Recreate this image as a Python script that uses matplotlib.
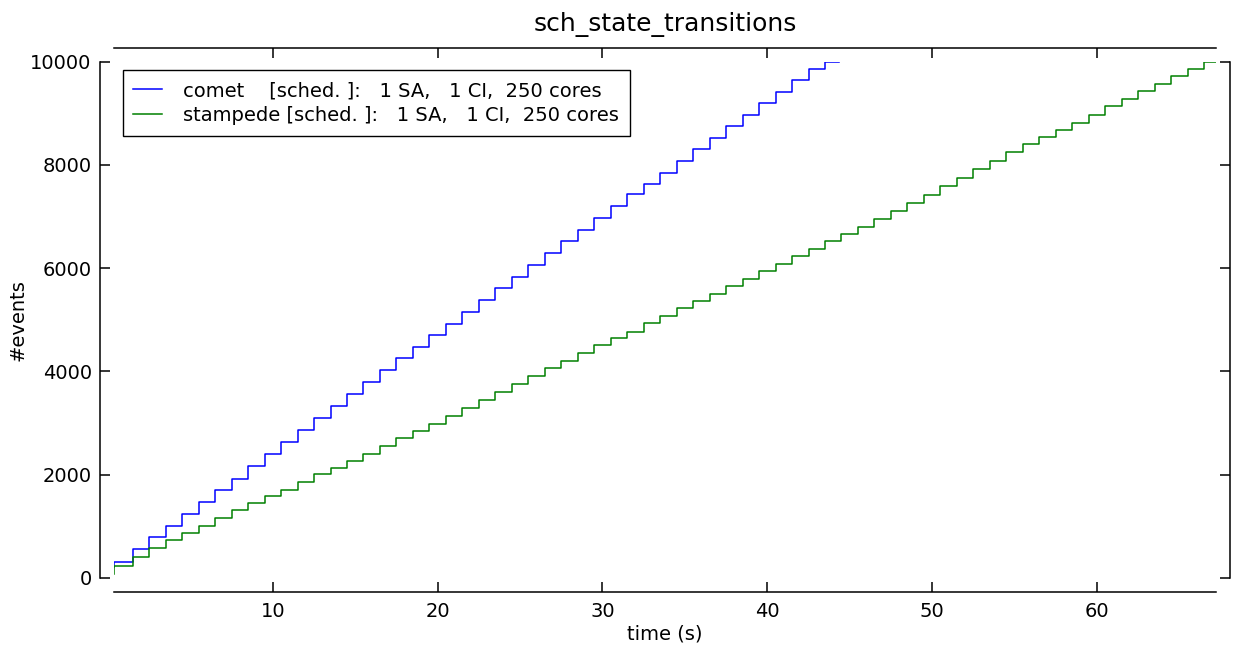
import matplotlib
matplotlib.use("Agg")
import matplotlib.pyplot as plt

# step times (s) and cumulative event counts
comet_t = [0.36, 1.5, 2.5, 3.5, 4.5, 5.5, 6.5, 7.5, 8.5, 9.5, 10.5,
           11.5, 12.5, 13.5, 14.5, 15.5, 16.5, 17.5, 18.5, 19.5, 20.5,
           21.5, 22.5, 23.5, 24.5, 25.5, 26.5, 27.5, 28.5, 29.5, 30.5,
           31.5, 32.5, 33.5, 34.5, 35.5, 36.5, 37.5, 38.5, 39.5, 40.5,
           41.5, 42.5, 43.5, 44.34]
comet_n = [210, 316, 557, 790, 1015, 1236, 1469, 1702, 1927, 2168, 2400,
           2633, 2866, 3099, 3324, 3565, 3798, 4031, 4264, 4483, 4708,
           4912, 5145, 5384, 5610, 5824, 6057, 6295, 6522, 6736, 6968,
           7207, 7434, 7640, 7841, 8074, 8307, 8520, 8753, 8967, 9199,
           9413, 9652, 9859, 10000]

stampede_t = [0.36, 1.5, 2.5, 3.5, 4.5, 5.5, 6.5, 7.5, 8.5, 9.5, 10.5,
              11.5, 12.5, 13.5, 14.5, 15.5, 16.5, 17.5, 18.5, 19.5, 20.5,
              21.5, 22.5, 23.5, 24.5, 25.5, 26.5, 27.5, 28.5, 29.5, 30.5,
              31.5, 32.5, 33.5, 34.5, 35.5, 36.5, 37.5, 38.5, 39.5, 40.5,
              41.5, 42.5, 43.5, 44.5, 45.5, 46.5, 47.5, 48.5, 49.5, 50.5,
              51.5, 52.5, 53.5, 54.5, 55.5, 56.5, 57.5, 58.5, 59.5, 60.5,
              61.5, 62.5, 63.5, 64.5, 65.5, 66.5, 67.25]
stampede_n = [81, 229, 404, 586, 741, 877, 1013, 1168, 1310, 1445, 1581,
              1711, 1853, 2008, 2130, 2274, 2409, 2551, 2706, 2842, 2991,
              3139, 3302, 3444, 3593, 3748, 3909, 4058, 4206, 4349, 4505,
              4646, 4769, 4931, 5067, 5223, 5364, 5506, 5649, 5797, 5940,
              6088, 6231, 6379, 6522, 6658, 6806, 6949, 7104, 7259, 7420,
              7589, 7750, 7919, 8074, 8249, 8396, 8532, 8676, 8817, 8967,
              9134, 9277, 9425, 9574, 9723, 9859, 10000]

comet_label = "comet    [sched. ]:   1 SA,   1 CI,  250 cores"
stampede_label = "stampede [sched. ]:   1 SA,   1 CI,  250 cores"

plt.rcParams['font.family'] = ['DejaVu Sans']
plt.rcParams['font.size'] = 14

fig = plt.figure(figsize=(12.4, 6.52), dpi=100)
ax = fig.add_axes([0.0919, 0.1135, 0.8891, 0.7919])

ax.step(comet_t, comet_n, where='pre', color='#0000ff', lw=1.1, label=comet_label)
ax.step(stampede_t, stampede_n, where='pre', color='#008000', lw=1.1, label=stampede_label)

ax.set_xlim(0.36, 67.25)
ax.set_ylim(0, 10000)
ax.set_xticks([10, 20, 30, 40, 50, 60])
ax.set_yticks([0, 2000, 4000, 6000, 8000, 10000])

# spines pushed outward, ticks pointing in on all sides
for side in ['left', 'right', 'top', 'bottom']:
    ax.spines[side].set_position(('outward', 10))
    ax.spines[side].set_linewidth(1.1)
ax.tick_params(direction='in', length=7, width=1.1, top=True, right=True,
               labelsize=14)
ax.tick_params(axis='y', pad=6)
ax.tick_params(axis='x', pad=7)

ax.set_xlabel("time (s)", fontsize=14, labelpad=3)
ax.set_ylabel("#events", fontsize=14, labelpad=2)
ax.set_title("sch_state_transitions", fontsize=18, pad=22)

leg = ax.legend(loc='upper left', fontsize=14, fancybox=False, framealpha=1,
                edgecolor='black', handlelength=1.45, handletextpad=1.1,
                borderaxespad=0.45, labelspacing=0.3, borderpad=0.55)
leg.get_frame().set_linewidth(1.0)

fig.savefig("out.png", dpi=100)
